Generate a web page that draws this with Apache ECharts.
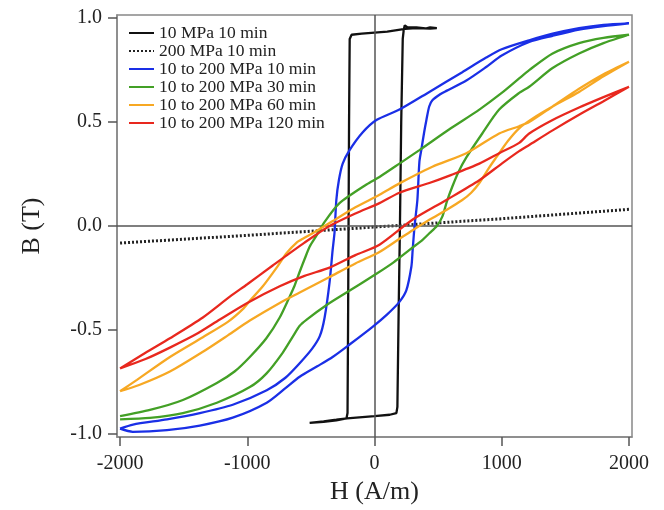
<!DOCTYPE html>
<html>
<head>
<meta charset="utf-8">
<script src="https://cdn.jsdelivr.net/npm/echarts@6/dist/echarts.min.js"></script>
<style>html,body{margin:0;padding:0;background:#fff;}#c{width:664px;height:510px;}</style>
</head>
<body>
<div id="c"></div>
<script>
// ---- data (H in A/m, B in T) ----
const seriesNames = ['10 MPa 10 min', '200 MPa 10 min', '10 to 200 MPa 10 min', '10 to 200 MPa 30 min', '10 to 200 MPa 60 min', '10 to 200 MPa 120 min'];
const xTicks = [-2000, -1000, 0, 1000, 2000];
const yTicks = [-1.0, -0.5, 0.0, 0.5, 1.0];

const loop10MPa = [[-510,-0.947],[-400,-0.94],[-300,-0.932],[-215,-0.925],[0,-0.915],[120,-0.908],[172,-0.90],[180,-0.87],[190,-0.40],[200,0.0],[210,0.5],[222,0.90],[230,0.945],[238,0.965],[260,0.955],[330,0.955],[400,0.95],[437,0.955],[490,0.952],[437,0.95],[330,0.952],[240,0.948],[100,0.935],[0,0.93],[-100,0.925],[-180,0.92],[-195,0.90],[-200,0.5],[-204,0.0],[-208,-0.5],[-212,-0.90],[-220,-0.925],[-300,-0.935],[-400,-0.942],[-510,-0.947]];

const loop200MPa = [[-2000,-0.082],[-1000,-0.045],[0,-0.005],[1000,0.035],[2000,0.08]];

const loop10min = [[-2000,-0.975],[-1900,-0.99],[-1631,-0.982],[-1373,-0.96],[-1114,-0.922],[-847,-0.85],[-700,-0.78],[-588,-0.725],[-450,-0.675],[-329,-0.63],[-196,-0.57],[-15,-0.485],[100,-0.425],[196,-0.365],[250,-0.31],[290,-0.195],[300,-0.115],[315,0.0],[337,0.125],[353,0.31],[369,0.37],[390,0.45],[408,0.51],[430,0.575],[455,0.605],[520,0.635],[565,0.65],[722,0.70],[878,0.765],[1000,0.82],[1216,0.885],[1400,0.915],[1608,0.945],[1800,0.962],[2000,0.975],
  [1800,0.968],[1608,0.952],[1400,0.925],[1216,0.893],[1000,0.85],[878,0.81],[690,0.74],[431,0.645],[196,0.56],[15,0.51],[-94,0.45],[-196,0.365],[-250,0.30],[-280,0.22],[-300,0.125],[-314,-0.03],[-329,-0.115],[-353,-0.27],[-392,-0.44],[-430,-0.53],[-490,-0.59],[-588,-0.66],[-700,-0.73],[-847,-0.79],[-1114,-0.86],[-1373,-0.90],[-1631,-0.93],[-1898,-0.955],[-2000,-0.975]];

const loop30min = [[-2000,-0.93],[-1765,-0.923],[-1506,-0.90],[-1239,-0.85],[-980,-0.775],[-850,-0.71],[-722,-0.61],[-640,-0.53],[-588,-0.48],[-533,-0.45],[-376,-0.38],[-220,-0.32],[15,-0.23],[150,-0.175],[275,-0.115],[380,-0.065],[431,-0.035],[490,0.0],[533,0.045],[570,0.12],[612,0.19],[660,0.26],[722,0.33],[847,0.445],[980,0.56],[1137,0.64],[1216,0.67],[1400,0.76],[1608,0.83],[1800,0.88],[2000,0.92],
  [1800,0.905],[1608,0.88],[1400,0.83],[1216,0.75],[1137,0.71],[1000,0.64],[824,0.56],[600,0.47],[353,0.365],[196,0.30],[39,0.236],[-63,0.20],[-275,0.11],[-392,0.02],[-460,-0.05],[-510,-0.10],[-550,-0.16],[-588,-0.22],[-630,-0.29],[-667,-0.34],[-745,-0.44],[-850,-0.54],[-980,-0.63],[-1100,-0.70],[-1239,-0.755],[-1506,-0.837],[-1765,-0.885],[-2000,-0.915]];

const loop60min = [[-2000,-0.795],[-1850,-0.765],[-1608,-0.70],[-1349,-0.605],[-1150,-0.525],[-980,-0.455],[-745,-0.37],[-588,-0.32],[-353,-0.245],[-150,-0.18],[39,-0.125],[200,-0.06],[300,-0.02],[431,0.03],[565,0.077],[690,0.125],[760,0.16],[824,0.207],[900,0.28],[957,0.33],[1050,0.41],[1137,0.47],[1250,0.52],[1400,0.575],[1608,0.645],[1800,0.72],[2000,0.79],
  [1800,0.73],[1608,0.66],[1400,0.575],[1216,0.50],[1137,0.48],[980,0.445],[722,0.35],[455,0.285],[196,0.205],[39,0.15],[-150,0.09],[-298,0.035],[-486,-0.035],[-560,-0.06],[-612,-0.08],[-690,-0.13],[-769,-0.2],[-878,-0.29],[-980,-0.36],[-1035,-0.40],[-1150,-0.46],[-1349,-0.535],[-1608,-0.63],[-1867,-0.74],[-2000,-0.795]];

const loop120min = [[-2000,-0.685],[-1800,-0.64],[-1608,-0.585],[-1400,-0.52],[-1216,-0.45],[-1000,-0.37],[-745,-0.29],[-550,-0.24],[-353,-0.2],[-150,-0.14],[39,-0.09],[298,0.03],[565,0.125],[824,0.22],[1000,0.30],[1137,0.36],[1216,0.39],[1400,0.46],[1608,0.535],[1800,0.60],[2000,0.67],
  [1800,0.62],[1608,0.57],[1400,0.51],[1216,0.445],[1137,0.40],[980,0.35],[824,0.30],[600,0.245],[431,0.207],[196,0.16],[39,0.11],[-150,0.06],[-353,0.0],[-550,-0.08],[-800,-0.19],[-1000,-0.28],[-1137,-0.34],[-1349,-0.44],[-1608,-0.54],[-1800,-0.61],[-2000,-0.685]];

// ---- chart ----
const serif = 'Liberation Serif';
const colors = ['#111111', '#222222', '#1a2fe6', '#43a026', '#f7a823', '#e8281e'];
const loops = [loop10MPa, loop200MPa, loop10min, loop30min, loop60min, loop120min];

const chart = echarts.init(document.getElementById('c'), null, {renderer: 'canvas'});
const series = loops.map((d, i) => ({
  name: seriesNames[i],
  type: 'line',
  data: d,
  symbol: 'none',
  smooth: i <= 1 ? false : 0.25,
  lineStyle: {color: colors[i], width: i === 1 ? 3 : 2.3, type: i === 1 ? [2, 2] : 'solid'},
  itemStyle: {color: colors[i]},
  z: 3 + i
}));
series[0].markLine = {
  silent: true, symbol: ['none', 'none'], animation: false,
  label: {show: false},
  lineStyle: {color: '#555', width: 1.5, type: 'solid'},
  data: [{yAxis: 0}, {xAxis: 0}]
};

chart.setOption({
  animation: false,
  backgroundColor: '#fff',
  grid: {left: 117, right: 32, top: 15, bottom: 73, show: true, borderColor: '#888', borderWidth: 1.5},
  legend: {
    orient: 'vertical', left: 128, top: 24, padding: 0,
    itemWidth: 25, itemHeight: 17, itemGap: 0,
    itemStyle: {opacity: 0},
    textStyle: {fontFamily: serif, fontSize: 17.5, color: '#222'},
    data: seriesNames
  },
  xAxis: {
    type: 'value', min: -2024, max: 2024,
    name: 'H (A/m)', nameLocation: 'middle', nameGap: 40,
    nameTextStyle: {fontFamily: serif, fontSize: 26, color: '#222'},
    axisLine: {show: true, onZero: false, lineStyle: {color: '#888', width: 1.5}},
    axisTick: {show: true, inside: false, length: 9, customValues: xTicks, lineStyle: {color: '#555', width: 1.5}},
    axisLabel: {customValues: xTicks, margin: 17, fontFamily: serif, fontSize: 20, color: '#222', formatter: v => String(v)},
    splitLine: {show: false}
  },
  yAxis: {
    type: 'value', min: -1.015, max: 1.015,
    name: 'B (T)', nameLocation: 'middle', nameGap: 72, nameRotate: 90,
    nameTextStyle: {fontFamily: serif, fontSize: 26, color: '#222'},
    axisLine: {show: true, onZero: false, lineStyle: {color: '#888', width: 1.5}},
    axisTick: {show: true, inside: false, length: 9, customValues: yTicks, lineStyle: {color: '#555', width: 1.5}},
    axisLabel: {customValues: yTicks, margin: 15, fontFamily: serif, fontSize: 20, color: '#222', formatter: v => v.toFixed(1)},
    splitLine: {show: false}
  },
  series: series
});
</script>
</body>
</html>
